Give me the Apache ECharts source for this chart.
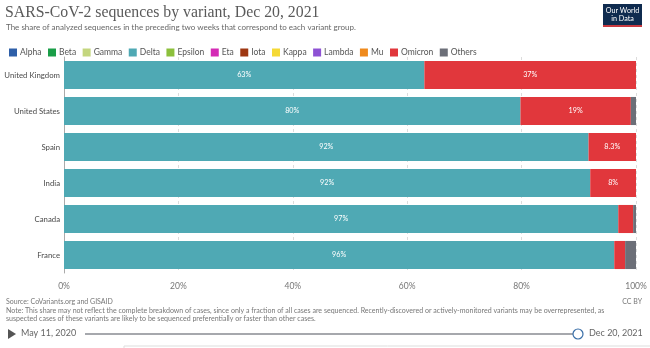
<!DOCTYPE html>
<html>
<head>
<meta charset="utf-8">
<script src="https://cdn.jsdelivr.net/npm/echarts@6/dist/echarts.min.js"></script>
<style>
html,body{margin:0;padding:0;background:#fff;}
#c{width:650px;height:348px;}
</style>
</head>
<body>
<div id="c"></div>
<script>
const countries = ['United Kingdom', 'United States', 'Spain', 'India', 'Canada', 'France'];
const variants = ['Alpha', 'Beta', 'Gamma', 'Delta', 'Epsilon', 'Eta', 'Iota', 'Kappa', 'Lambda', 'Mu', 'Omicron', 'Others'];
const alpha = [0, 0, 0, 0, 0, 0];
const beta = [0, 0, 0, 0, 0, 0];
const gamma = [0, 0, 0, 0, 0, 0];
const delta = [63, 79.8, 91.7, 92, 96.9, 96.2];
const epsilon = [0, 0, 0, 0, 0, 0];
const eta = [0, 0, 0, 0, 0, 0];
const iota = [0, 0, 0, 0, 0, 0];
const kappa = [0, 0, 0, 0, 0, 0];
const lambda = [0, 0, 0, 0, 0, 0];
const mu = [0, 0, 0, 0, 0, 0];
const omicron = [37, 19.3, 8.3, 8, 2.6, 1.9];
const others = [0, 0.9, 0, 0, 0.5, 1.9];
const xTicks = [0, 20, 40, 60, 80, 100];

const seriesData = [alpha, beta, gamma, delta, epsilon, eta, iota, kappa, lambda, mu, omicron, others];
const colors = ['#2e5fa8', '#1a9e48', '#c4d67e', '#4fa9b4', '#8cc03c', '#d42bb5', '#9e3712', '#f5d935', '#8e52d4', '#ef8a1d', '#e1373c', '#6c6f78'];

function fmt(v) {
  if (v < 10) { return (Math.round(v * 10) / 10).toString() + '%'; }
  return Math.round(v) + '%';
}

const chart = echarts.init(document.getElementById('c'), null, {renderer: 'canvas'});
const font = 'Lato, "Noto Sans", sans-serif';

const option = {
  animation: false,
  textStyle: {fontFamily: font},
  legend: {
    data: variants,
    left: 4, top: 43,
    itemWidth: 8, itemHeight: 8, itemGap: 6.5,
    icon: 'rect',
    selectedMode: false,
    textStyle: {fontSize: 8.5, color: '#555', fontFamily: font, padding: [0, 0, 0, -2]}
  },
  grid: {left: 64, right: 14, top: 57, bottom: 75},
  xAxis: {
    type: 'value', min: 0, max: 100, interval: 20,
    axisLine: {show: false}, axisTick: {show: false},
    splitLine: {show: true, lineStyle: {color: '#dcdcdc', type: [3, 3], width: 1}},
    axisLabel: {formatter: function (v) { return xTicks.indexOf(v) >= 0 ? v + '%' : ''; }, fontSize: 8.5, color: '#777', margin: 9, fontFamily: font}
  },
  yAxis: {
    type: 'category', data: countries, inverse: true,
    axisLine: {show: true, lineStyle: {color: '#aaa'}},
    axisTick: {show: false},
    axisLabel: {fontSize: 7.8, color: '#4a4a4a', margin: 4, fontFamily: font}
  },
  series: variants.map(function (name, i) {
    return {
      name: name, type: 'bar', stack: 'total',
      data: seriesData[i],
      barCategoryGap: '22%',
      itemStyle: {color: colors[i]},
      label: {
        show: true, position: 'inside', color: '#fff', fontSize: 7.2, fontFamily: font,
        formatter: function (p) { return p.value >= 5 ? fmt(p.value) : ''; }
      }
    };
  }),
  graphic: [
    {type: 'text', left: 5, top: 5, style: {text: 'SARS-CoV-2 sequences by variant, Dec 20, 2021', font: '15.8px "Liberation Serif", "DejaVu Serif", serif', fill: '#5a5a5a'}},
    {type: 'text', left: 6, top: 23, style: {text: 'The share of analyzed sequences in the preceding two weeks that correspond to each variant group.', font: '8px ' + font, fill: '#666'}},
    {type: 'rect', shape: {x: 603, y: 4, width: 39, height: 23}, style: {fill: '#0f2b4f'}},
    {type: 'rect', shape: {x: 603, y: 25, width: 39, height: 2}, style: {fill: '#c8393f'}},
    {type: 'text', x: 622.5, y: 6, style: {text: 'Our World\nin Data', font: '7.2px ' + font, fill: '#fff', align: 'center', lineHeight: 8.5}},
    {type: 'text', left: 6, top: 298, style: {text: 'Source: CoVariants.org and GISAID', font: '7px ' + font, fill: '#777'}},
    {type: 'text', left: 6, top: 306, style: {text: 'Note: This share may not reflect the complete breakdown of cases, since only a fraction of all cases are sequenced. Recently-discovered or actively-monitored variants may be overrepresented, as\nsuspected cases of these variants are likely to be sequenced preferentially or faster than other cases.', font: '7.05px ' + font, fill: '#777', lineHeight: 8.5}},
    {type: 'text', right: 8, top: 298, style: {text: 'CC BY', font: '7px ' + font, fill: '#777'}},
    {type: 'polygon', shape: {points: [[8, 329], [8, 339], [16, 334]]}, style: {fill: '#555'}},
    {type: 'text', left: 21, top: 329, style: {text: 'May 11, 2020', font: '9px ' + font, fill: '#666'}},
    {type: 'line', shape: {x1: 85, y1: 334, x2: 573, y2: 334}, style: {stroke: '#a6a8ad', lineWidth: 2}},
    {type: 'circle', shape: {cx: 578, cy: 334, r: 5}, style: {fill: '#fff', stroke: '#3a6fa8', lineWidth: 1.2}},
    {type: 'text', left: 589, top: 329, style: {text: 'Dec 20, 2021', font: '9px ' + font, fill: '#666'}},
    {type: 'rect', shape: {x: 124, y: 346, width: 530, height: 4}, style: {fill: '#fff', stroke: '#ddd', lineWidth: 1}}
  ]
};
chart.setOption(option);
</script>
</body>
</html>
